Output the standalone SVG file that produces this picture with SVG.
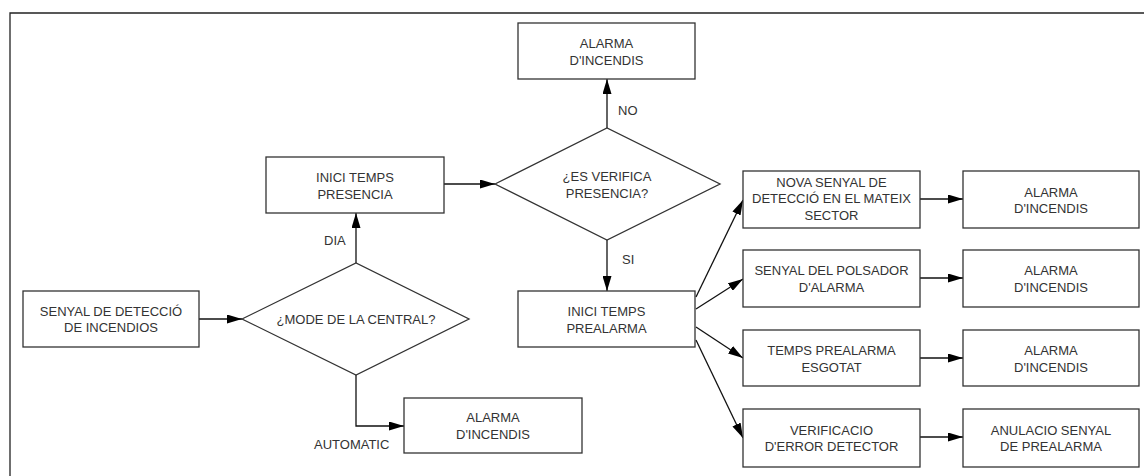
<svg xmlns="http://www.w3.org/2000/svg" width="1144" height="476" viewBox="0 0 1144 476">
<defs>
<style>
.box{fill:#fff;stroke:#333;stroke-width:1.3}
.t{font-family:"Liberation Sans",Arial,sans-serif;font-size:13px;fill:#333;text-anchor:middle}
.l{font-family:"Liberation Sans",Arial,sans-serif;font-size:13px;fill:#333}
.c{fill:none;stroke:#111;stroke-width:1.3}
</style>
<marker id="ah" viewBox="0 0 15 9" refX="15" refY="4.5" markerWidth="15" markerHeight="9" markerUnits="userSpaceOnUse" orient="auto">
<path d="M0,0 L15,4.5 L0,9 Z" fill="#000"/>
</marker>
</defs>
<rect width="1144" height="476" fill="#fff"/>
<path d="M10,476 V13 H1144" fill="none" stroke="#222" stroke-width="1.3"/>

<g id="connectors">
<path class="c" d="M199,319 H242" marker-end="url(#ah)"/>
<path class="c" d="M356,263 V213" marker-end="url(#ah)"/>
<path class="c" d="M356,375 V426 H404" marker-end="url(#ah)"/>
<path class="c" d="M444,184 H495" marker-end="url(#ah)"/>
<path class="c" d="M607,128 V79" marker-end="url(#ah)"/>
<path class="c" d="M607,240 V291" marker-end="url(#ah)"/>
<path class="c" d="M696,297 L743,200" marker-end="url(#ah)"/>
<path class="c" d="M696,309 L743,279" marker-end="url(#ah)"/>
<path class="c" d="M696,327 L743,358" marker-end="url(#ah)"/>
<path class="c" d="M696,340 L743,438" marker-end="url(#ah)"/>
<path class="c" d="M920,199 H963" marker-end="url(#ah)"/>
<path class="c" d="M920,278 H963" marker-end="url(#ah)"/>
<path class="c" d="M920,358 H963" marker-end="url(#ah)"/>
<path class="c" d="M920,437 H963" marker-end="url(#ah)"/>
<text class="l" x="324" y="245">DIA</text>
<text class="l" x="314" y="449">AUTOMATIC</text>
<text class="l" x="618" y="115">NO</text>
<text class="l" x="622" y="264">SI</text>
</g>

<g id="senyal">
<rect class="box" x="23" y="291" width="176" height="56"/>
<text class="t" x="111" y="315.5">SENYAL DE DETECCIÓ</text>
<text class="t" x="111" y="332">DE INCENDIOS</text>
</g>
<g id="mode">
<polygon class="box" points="242,319 356,263 469,319 356,375"/>
<text class="t" x="356" y="323.5">¿MODE DE LA CENTRAL?</text>
</g>
<g id="presencia">
<rect class="box" x="266" y="157" width="178" height="56"/>
<text class="t" x="355" y="182">INICI TEMPS</text>
<text class="t" x="355" y="198.5">PRESENCIA</text>
</g>
<g id="alarma-auto">
<rect class="box" x="404" y="398" width="178" height="55"/>
<text class="t" x="493" y="422">ALARMA</text>
<text class="t" x="493" y="438.5">D'INCENDIS</text>
</g>
<g id="verifica">
<polygon class="box" points="495,184 607,128 720,184 607,240"/>
<text class="t" x="607" y="181">¿ES VERIFICA</text>
<text class="t" x="607" y="197.5">PRESENCIA?</text>
</g>
<g id="alarma-no">
<rect class="box" x="518" y="23" width="177" height="56"/>
<text class="t" x="606.5" y="48">ALARMA</text>
<text class="t" x="606.5" y="64.5">D'INCENDIS</text>
</g>
<g id="prealarma">
<rect class="box" x="518" y="291" width="177" height="56"/>
<text class="t" x="606.5" y="316">INICI TEMPS</text>
<text class="t" x="606.5" y="332.5">PREALARMA</text>
</g>
<g id="nova">
<rect class="box" x="743" y="171" width="177" height="57"/>
<text class="t" x="831.5" y="186.5">NOVA SENYAL DE</text>
<text class="t" x="831.5" y="203">DETECCIÓ EN EL MATEIX</text>
<text class="t" x="831.5" y="219.5">SECTOR</text>
</g>
<g id="polsador">
<rect class="box" x="743" y="250" width="177" height="57"/>
<text class="t" x="831.5" y="275">SENYAL DEL POLSADOR</text>
<text class="t" x="831.5" y="291.5">D'ALARMA</text>
</g>
<g id="esgotat">
<rect class="box" x="743" y="330" width="177" height="56"/>
<text class="t" x="831.5" y="355">TEMPS PREALARMA</text>
<text class="t" x="831.5" y="371.5">ESGOTAT</text>
</g>
<g id="error">
<rect class="box" x="743" y="409" width="177" height="58"/>
<text class="t" x="831.5" y="434.5">VERIFICACIO</text>
<text class="t" x="831.5" y="451">D'ERROR DETECTOR</text>
</g>
<g id="alarma1">
<rect class="box" x="963" y="171" width="176" height="57"/>
<text class="t" x="1051" y="196.5">ALARMA</text>
<text class="t" x="1051" y="213">D'INCENDIS</text>
</g>
<g id="alarma2">
<rect class="box" x="963" y="250" width="176" height="57"/>
<text class="t" x="1051" y="275">ALARMA</text>
<text class="t" x="1051" y="291.5">D'INCENDIS</text>
</g>
<g id="alarma3">
<rect class="box" x="963" y="330" width="176" height="56"/>
<text class="t" x="1051" y="355">ALARMA</text>
<text class="t" x="1051" y="371.5">D'INCENDIS</text>
</g>
<g id="anulacio">
<rect class="box" x="963" y="409" width="176" height="58"/>
<text class="t" x="1051" y="434.5">ANULACIO SENYAL</text>
<text class="t" x="1051" y="451">DE PREALARMA</text>
</g>
</svg>
